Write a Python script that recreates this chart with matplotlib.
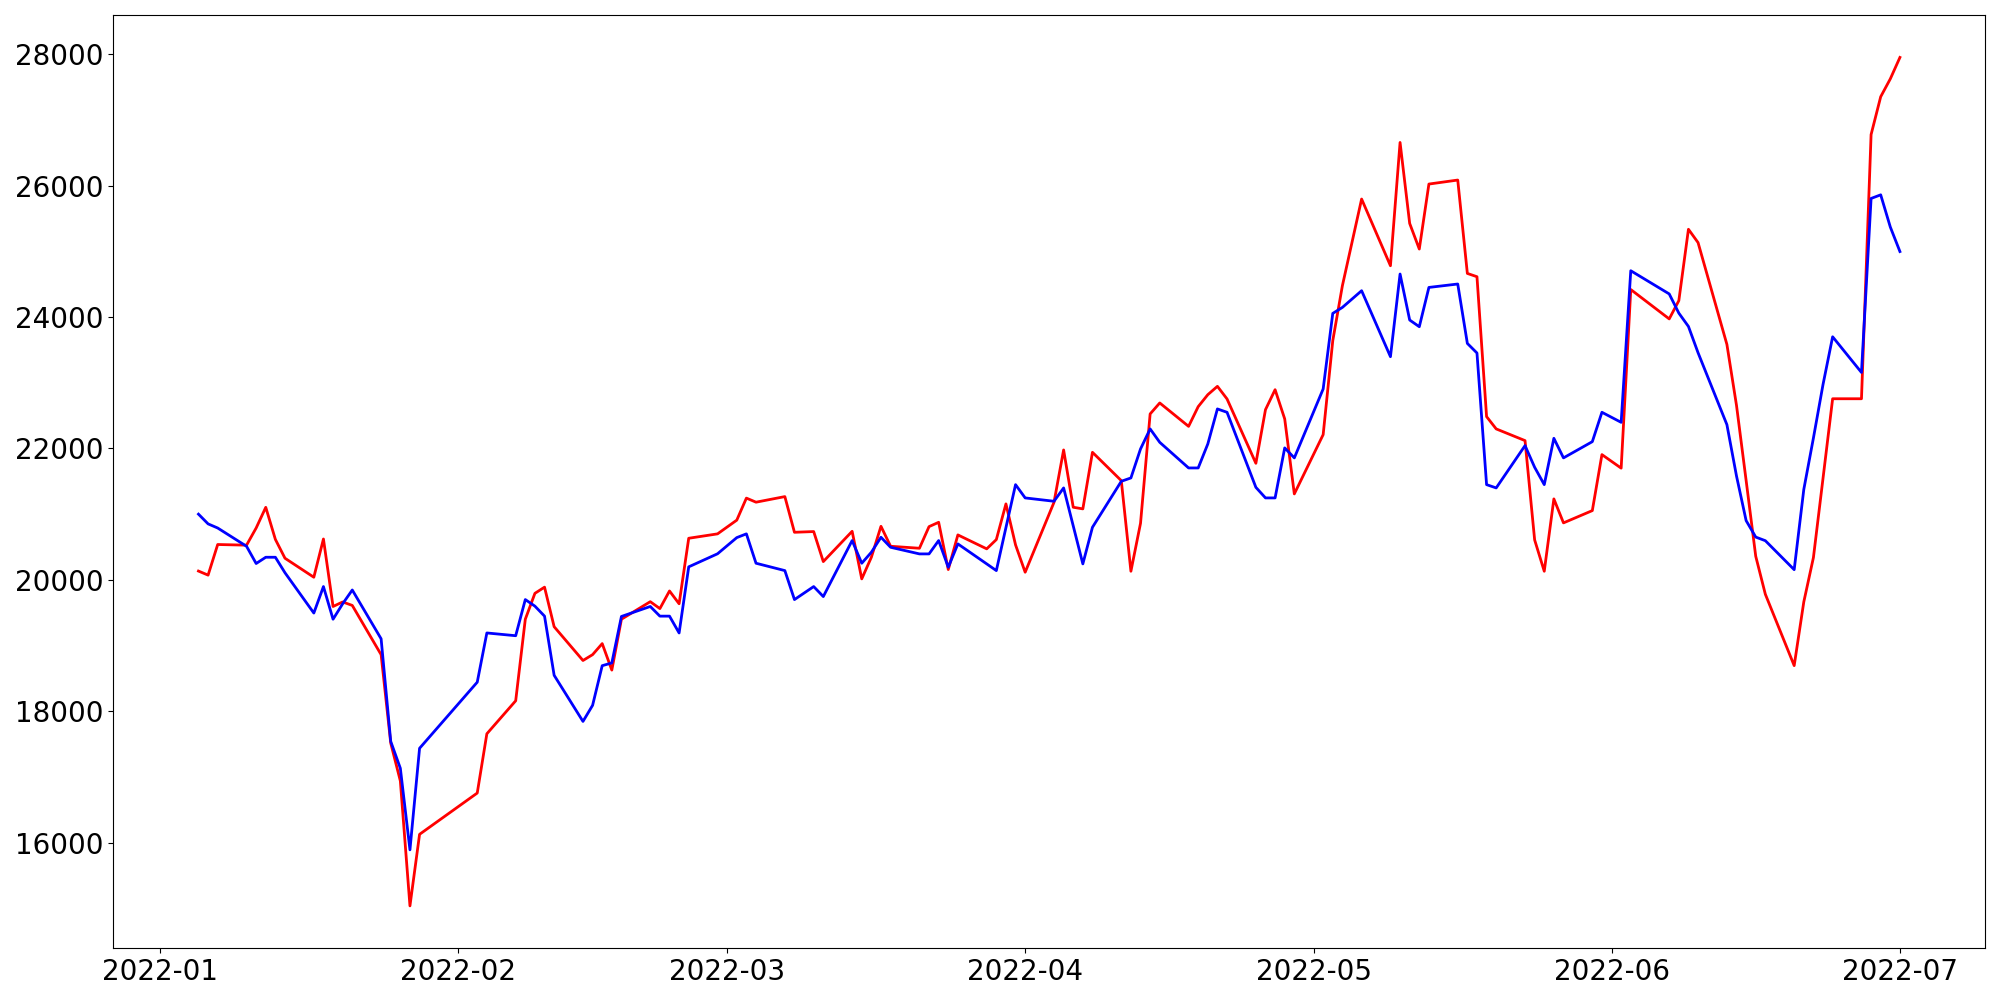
"""
Two daily price series (red / blue) over the first half of 2022.
Trading days follow the KRX calendar (weekends and market holidays skipped).
"""

import matplotlib
matplotlib.use("Agg")
import matplotlib.pyplot as plt
import matplotlib.dates as mdates
import pandas as pd

# market holidays inside the range (no data on these days)
holidays = ["2022-01-31", "2022-02-01", "2022-02-02", "2022-03-01",
            "2022-03-09", "2022-05-05", "2022-06-01", "2022-06-06"]
dates = pd.bdate_range("2022-01-05", "2022-07-01")
dates = dates[~dates.isin(pd.to_datetime(holidays))]

red = [
    # Jan
    20134, 20072, 20538, 20528, 20789, 21104, 20616, 20329, 20040, 20622,
    19595, 19664, 19611, 18862, 17516, 16940, 15039, 16128,
    # Feb
    16756, 17658, 18160, 19401, 19795, 19889, 19287, 18773, 18862, 19030,
    18627, 19401, 19668, 19563, 19831, 19636, 20633, 20700,
    # Mar
    20909, 21244, 21182, 21267, 20724, 20735, 20278, 20739, 20015, 20344,
    20815, 20511, 20481, 20810, 20876, 20157, 20684, 20472, 20613, 21156,
    20532,
    # Apr
    20116, 21180, 21977, 21105, 21080, 21941, 21510, 20131, 20861, 22525,
    22692, 22336, 22636, 22818, 22945, 22753, 21774, 22590, 22894, 22449,
    21308,
    # May
    22210, 23640, 24476, 25795, 24780, 26656, 25424, 25034, 26023, 26084,
    24663, 24613, 22484, 22297, 22119, 20608, 20131, 21232, 20867, 21054,
    21906,
    # Jun
    21700, 24418, 23971, 24249, 25335, 25132, 23583, 22654, 21513, 20359,
    19781, 18695, 19665, 20339, 21546, 22756, 22756, 26776, 27352, 27624,
    # Jul
    27950,
]

blue = [
    # Jan
    21000, 20852, 20789, 20511, 20249, 20344, 20344, 20108, 19495, 19898,
    19401, 19636, 19846, 19103, 17542, 17133, 15892, 17437,
    # Feb
    18443, 19192, 19150, 19700, 19600, 19448, 18548, 17846, 18091, 18694,
    18736, 19443, 19595, 19448, 19448, 19192, 20198, 20397,
    # Mar
    20643, 20700, 20253, 20141, 19700, 19898, 19746, 20598, 20253, 20420,
    20648, 20496, 20395, 20395, 20598, 20192, 20547, 20243, 20141, 20796,
    21449,
    # Apr
    21247, 21196, 21399, 20821, 20243, 20800, 21500, 21551, 21992, 22297,
    22093, 21703, 21703, 22068, 22601, 22550, 21408, 21247, 21247, 22008,
    21856,
    # May
    22905, 24055, 24146, 24400, 23396, 24654, 23954, 23852, 24450, 24502,
    23598, 23452, 21449, 21399, 22043, 21713, 21449, 22154, 21856, 22103,
    22550,
    # Jun
    22397, 24704, 24351, 24059, 23856, 23456, 22362, 21580, 20902, 20651,
    20596, 20155, 21376, 22158, 22973, 23699, 23156, 25804, 25859, 25369,
    # Jul
    24996,
]

fig, ax = plt.subplots(figsize=(20, 10), dpi=100)
ax.plot(dates, red, color="red", linewidth=2)
ax.plot(dates, blue, color="blue", linewidth=2)

ax.xaxis.set_major_locator(mdates.MonthLocator())
ax.xaxis.set_major_formatter(mdates.DateFormatter("%Y-%m"))
ax.tick_params(labelsize=20)

fig.subplots_adjust(left=0.0567, right=0.9925, top=0.985, bottom=0.0517)
fig.savefig("out.png", dpi=100)
